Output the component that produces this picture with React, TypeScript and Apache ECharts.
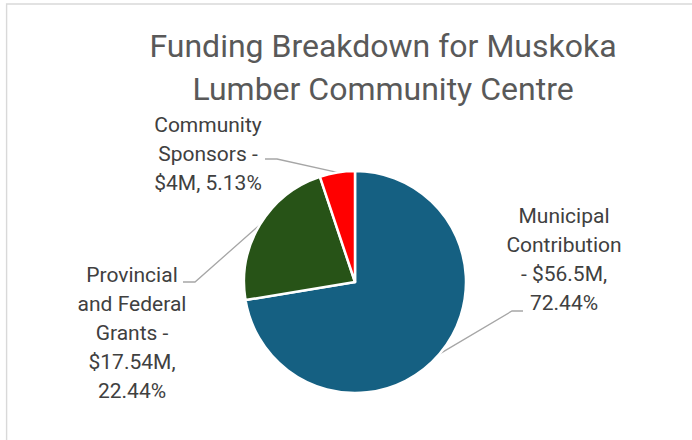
import React, { useEffect, useRef } from "react";
import * as echarts from "echarts";

const TITLE = "Funding Breakdown for Muskoka\nLumber Community Centre";
const categories = ["Municipal Contribution", "Provincial and Federal Grants", "Community Sponsors"];
const valuesM = [56.5, 17.54, 4];
const percents = [72.44, 22.44, 5.13];
const colors = ["#156082", "#275317", "#FF0000"];

// words per line for each label (layout only)
const lineGroups = [
  [1, 1, 2, 1],
  [1, 2, 2, 1, 1],
  [1, 2, 2],
];

const LABEL_LAYOUT = [
  { x: 564, y: 202, elbow: [512, 311], end: [523, 311] },
  { x: 132, y: 261, elbow: [195, 282], end: [183, 282] },
  { x: 208, y: 111, elbow: [277, 159], end: [265, 159] },
];

const CENTER = [355, 282];
const RADIUS = 111;

function labelText(i: number): string {
  const words = `${categories[i]} - $${valuesM[i]}M, ${percents[i].toFixed(2)}%`.split(" ");
  const lines: string[] = [];
  let k = 0;
  for (const n of lineGroups[i]) {
    lines.push(words.slice(k, k + n).join(" "));
    k += n;
  }
  if (k < words.length) lines.push(words.slice(k).join(" "));
  return lines.join("\n");
}

export default function App() {
  const ref = useRef<HTMLDivElement>(null);
  useEffect(() => {
    if (!ref.current) return;
    const chart = echarts.init(ref.current, undefined, { renderer: "svg" });
    const total = valuesM.reduce((a, b) => a + b, 0);
    chart.setOption({
      animation: false,
      backgroundColor: "#ffffff",
      title: {
        text: TITLE,
        left: 378,
        top: 19,
        textAlign: "center",
        textStyle: {
          fontFamily: "Roboto",
          fontSize: 32,
          fontWeight: "normal",
          color: "#595959",
          lineHeight: 43,
        },
      },
      graphic: [
        {
          type: "rect",
          shape: { x: 6.6, y: 4, width: 720, height: 470 },
          style: { fill: "none", stroke: "#d9d9d9", lineWidth: 1.4 },
          silent: true,
        },
      ],
      series: [
        {
          type: "pie",
          center: CENTER,
          radius: RADIUS,
          startAngle: 90,
          clockwise: true,
          avoidLabelOverlap: false,
          emphasis: { disabled: true },
          itemStyle: { borderColor: "#ffffff", borderWidth: 2.5 },
          label: {
            show: true,
            position: "outside",
            formatter: (p: any) => labelText(p.dataIndex),
            fontFamily: "Roboto",
            fontSize: 21,
            lineHeight: 28.8,
            color: "#404040",
            align: "center",
          },
          labelLine: {
            show: true,
            length: 10,
            length2: 10,
            smooth: false,
            lineStyle: { color: "#a6a6a6", width: 1.3 },
          },
          labelLayout: (params: any) => {
            const i = params.dataIndex;
            const L = LABEL_LAYOUT[i];
            let p0 = params.labelLinePoints && params.labelLinePoints[0];
            if (!p0) {
              let before = 0;
              for (let j = 0; j < i; j++) before += valuesM[j];
              const mid = ((before + valuesM[i] / 2) / total) * Math.PI * 2;
              p0 = [CENTER[0] + RADIUS * Math.sin(mid), CENTER[1] - RADIUS * Math.cos(mid)];
            }
            return {
              x: L.x,
              y: L.y,
              align: "center",
              verticalAlign: "top",
              labelLinePoints: [p0, L.elbow, L.end],
            };
          },
          data: categories.map((name, i) => ({
            name,
            value: valuesM[i],
            itemStyle: { color: colors[i] },
          })),
        },
      ],
    });
    return () => chart.dispose();
  }, []);
  return (
    <div
      ref={ref}
      style={{ width: 692, height: 440, position: "fixed", left: 0, top: 0 }}
    />
  );
}
